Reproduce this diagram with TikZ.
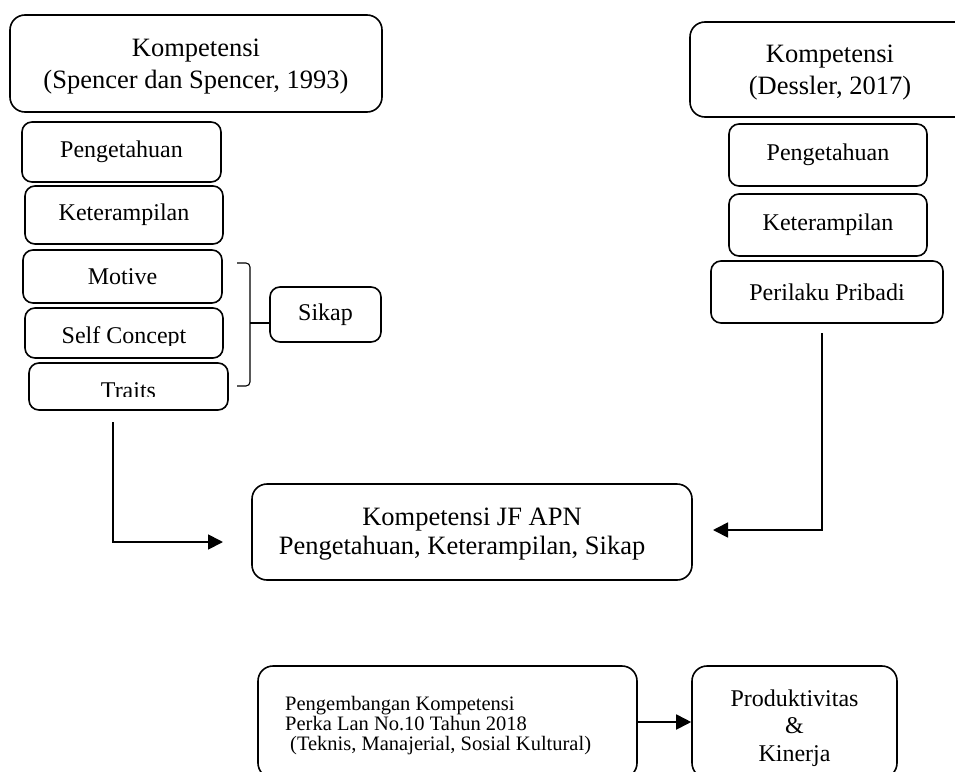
\documentclass[tikz,border=0pt]{standalone}
\usepackage{fontspec}
\setmainfont{Liberation Serif}
\usetikzlibrary{arrows.meta}
\newcommand\FBig{\fontsize{26.5}{32}\selectfont}
\newcommand\FJF{\fontsize{26.5}{29}\selectfont}
\newcommand\FSmall{\fontsize{24}{27}\selectfont}
\newcommand\FProd{\fontsize{24}{27.5}\selectfont}
\newcommand\FTiny{\fontsize{20.5}{20}\selectfont}
\tikzset{
  box/.style={draw=black, line width=1.6pt, rounded corners=15pt, fill=white, inner sep=0pt, align=center},
  smallbox/.style={box, rounded corners=10pt},
  txt/.style={inner sep=0pt, align=center},
  arr/.style={draw=black, line width=1.8pt, -{Triangle[length=15pt,width=15pt]}},
  bracket/.style={draw=black, line width=1.1pt, rounded corners=4pt},
}
\begin{document}
\begin{tikzpicture}[x=1pt,y=-1pt]
\clip (0,0) rectangle (955,771);
\fill[white] (0,0) rectangle (955,771);

% left column
\node[box, minimum width=372pt, minimum height=97pt] (topL) at (196,63.5) {};
\node[txt, font=\FBig] (topLt) at (196,66.5) {Kompetensi\\(Spencer dan Spencer, 1993)};
\node[smallbox, minimum width=199pt, minimum height=60pt, font=\FSmall] (pL) at (121.5,152) {Pengetahuan};
\node[smallbox, minimum width=198pt, minimum height=58pt, font=\FSmall] (kL) at (124,215) {Keterampilan};
\node[smallbox, minimum width=199pt, minimum height=53pt, font=\FSmall] (mL) at (122.5,276.5) {Motive};
\node[smallbox, minimum width=198pt, minimum height=50pt] (sL) at (124,333) {};
\begin{scope}
  \clip (26,309) rectangle (222,345);
  \node[font=\FSmall, anchor=base, inner sep=0pt] (sLt) at (124,343) {Self Concept};
\end{scope}
\node[smallbox, minimum width=199pt, minimum height=47pt] (tL) at (128.5,386.5) {};
\begin{scope}
  \clip (30,364) rectangle (227,396);
  \node[font=\FSmall, anchor=base, inner sep=0pt] (tLt) at (128.5,398) {Traits};
\end{scope}
\node[smallbox, minimum width=111pt, minimum height=55pt, font=\FSmall] (sikap) at (325.5,314.5) {Sikap};

% bracket
\draw[bracket] (237,263) -- (250,263) -- (250,386) -- (237,386);
\coordinate (brmid) at (250,323);
\draw[bracket] (brmid) -- (brmid -| sikap.west);

% right column
\node[box, minimum width=280pt, minimum height=95pt] (topR) at (830,69.5) {};
\node[txt, font=\FBig] (topRt) at (830,72.5) {Kompetensi\\(Dessler, 2017)};
\node[smallbox, minimum width=198pt, minimum height=62pt, font=\FSmall] (pR) at (828,155) {Pengetahuan};
\node[smallbox, minimum width=198pt, minimum height=62pt, font=\FSmall] (kR) at (828,225) {Keterampilan};
\node[smallbox, minimum width=232pt, minimum height=62pt, font=\FSmall] (prR) at (827,292) {Perilaku Pribadi};

% center
\node[box, minimum width=440pt, minimum height=96pt] (jf) at (472,532) {};
\node[txt, font=\FJF] (jft) at (472,534) {Kompetensi JF APN\\Pengetahuan, Keterampilan, Sikap\hspace*{20pt}};

% bottom
\node[box, minimum width=379pt, minimum height=112pt] (peng) at (447.5,722) {};
\node[txt, align=left, anchor=west, font=\FTiny] (pengt) at (285,726) {Pengembangan Kompetensi\\Perka Lan No.10 Tahun 2018\\\hspace*{5pt}(Teknis, Manajerial, Sosial Kultural)};
\node[box, minimum width=205pt, minimum height=112pt] (prod) at (794.5,722) {};
\node[txt, font=\FProd] (prodt) at (794.5,728) {Produktivitas\\\&\\Kinerja};

% connectors
\coordinate (lstart) at (113,422);
\coordinate (ltip) at (223,542);
\draw[arr] (lstart) |- (ltip);
\coordinate (rstart) at (822,333);
\coordinate (rtip) at (713,530);
\draw[arr] (rstart) |- (rtip);
\draw[arr] (peng.east) -- (prod.west);
\end{tikzpicture}
\end{document}
